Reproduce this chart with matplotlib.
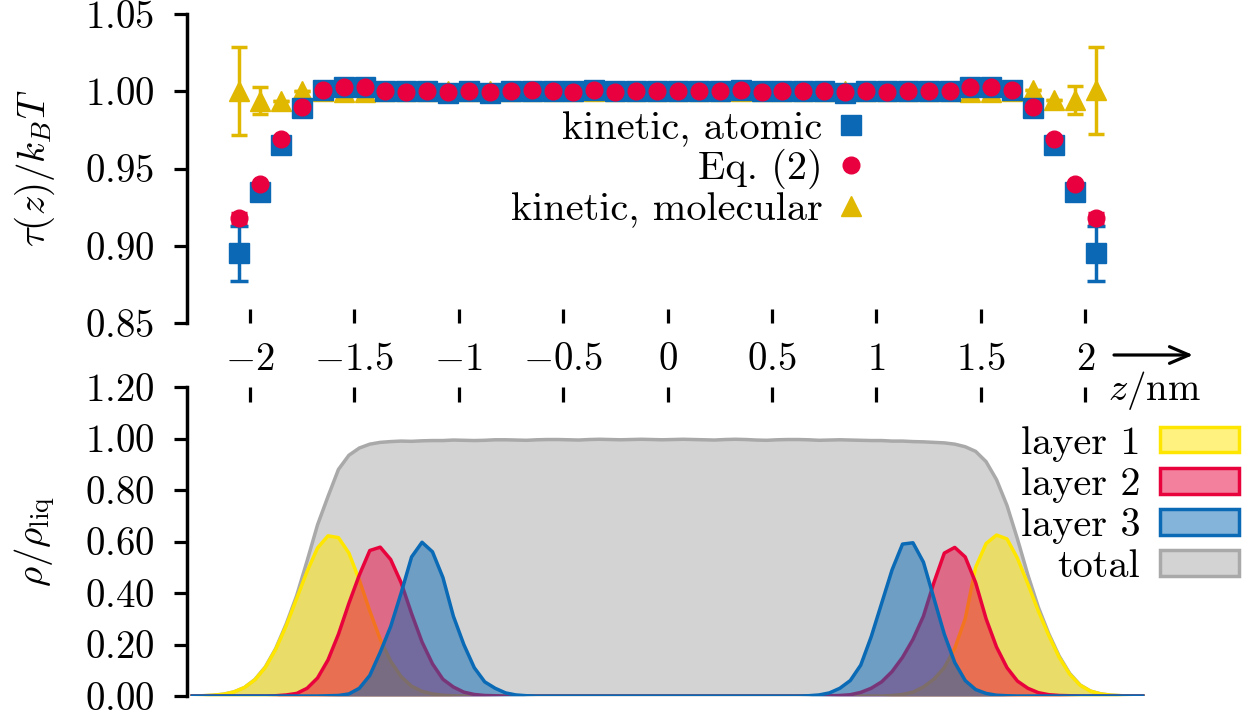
import numpy as np
import matplotlib
matplotlib.use('Agg')
import matplotlib.pyplot as plt
from matplotlib.lines import Line2D
from matplotlib.patches import Patch
from matplotlib.ticker import FixedLocator, FuncFormatter

plt.rcParams['mathtext.fontset'] = 'cm'
plt.rcParams['font.family'] = 'serif'
plt.rcParams['font.serif'] = ['cmr10']
plt.rcParams['axes.unicode_minus'] = False
plt.rcParams['font.size'] = 28

# --- upper panel: tau(z)/kT ---
z_tau = [-2.05, -1.95, -1.85, -1.75, -1.65, -1.55, -1.45, -1.35, -1.25, -1.15, -1.05,
         -0.95, -0.85, -0.75, -0.65, -0.55, -0.45, -0.35, -0.25, -0.15, -0.05,
         0.05, 0.15, 0.25, 0.35, 0.45, 0.55, 0.65, 0.75, 0.85, 0.95,
         1.05, 1.15, 1.25, 1.35, 1.45, 1.55, 1.65, 1.75, 1.85, 1.95, 2.05]
tau_atom = [0.895, 0.935, 0.965, 0.989, 1.001, 1.003, 1.003, 1.000, 1.000, 1.000, 0.999,
            1.000, 0.999, 1.000, 1.000, 1.000, 1.000, 1.001, 1.000, 1.000, 1.000,
            1.000, 1.000, 1.000, 1.001, 1.000, 1.000, 1.000, 1.000, 0.999, 1.000,
            1.000, 1.000, 1.000, 1.000, 1.003, 1.003, 1.001, 0.989, 0.965, 0.935, 0.895]
err_atom = [0.018, 0, 0, 0, 0, 0, 0, 0, 0, 0, 0,
            0, 0, 0, 0, 0, 0, 0, 0, 0, 0,
            0, 0, 0, 0, 0, 0, 0, 0, 0, 0,
            0, 0, 0, 0, 0, 0, 0, 0, 0, 0, 0.018]
tau_eq = [0.918, 0.940, 0.969, 0.990, 1.001, 1.003, 1.0025, 1.0004, 0.9995, 1.0002, 0.9993,
          1.0003, 0.9998, 1.0003, 1.0005, 1.0002, 0.9997, 1.0005, 0.9997, 1.0002, 1.0000,
          1.0002, 1.0000, 1.0000, 1.0005, 0.9997, 1.0002, 1.0000, 1.0000, 0.9997, 1.0002,
          0.9995, 1.0002, 1.0000, 1.0004, 1.0025, 1.003, 1.001, 0.990, 0.969, 0.940, 0.918]
err_eq = [0.0035, 0, 0, 0, 0, 0, 0, 0, 0, 0, 0,
          0, 0, 0, 0, 0, 0, 0, 0, 0, 0,
          0, 0, 0, 0, 0, 0, 0, 0, 0, 0,
          0, 0, 0, 0, 0, 0, 0, 0, 0, 0, 0.0035]
tau_mol = [1.000, 0.994, 0.994, 1.000, 1.000, 0.9995, 0.9995, 1.000, 1.000, 1.000, 1.000,
           1.000, 1.000, 1.000, 1.000, 1.000, 1.000, 1.000, 1.000, 1.000, 1.000,
           1.000, 1.000, 1.000, 1.000, 1.000, 1.000, 1.000, 1.000, 1.000, 1.000,
           1.000, 1.000, 1.000, 1.000, 0.9995, 0.9995, 1.000, 1.001, 0.9945, 0.9944, 1.0005]
err_mol = [0.0285, 0.0085, 0, 0, 0, 0, 0, 0, 0, 0, 0,
           0, 0, 0, 0, 0, 0, 0, 0, 0, 0,
           0, 0, 0, 0, 0, 0, 0, 0, 0, 0,
           0, 0, 0, 0, 0, 0, 0, 0, 0, 0.0089, 0.0284]
tau_labels = ['kinetic, atomic', 'Eq. (2)', 'kinetic, molecular']

# --- lower panel: density profiles (grid -2.275 ... 2.275, step 0.05) ---
z_rho = np.linspace(-2.275, 2.275, 92)
layer1 = [0.000, 0.001, 0.003, 0.007, 0.016, 0.033, 0.063, 0.111, 0.182, 0.273,
          0.379, 0.484, 0.575, 0.622, 0.615, 0.555, 0.450, 0.330, 0.220, 0.135,
          0.075, 0.038, 0.018, 0.008, 0.003, 0.001, 0.000, 0.000, 0.000, 0.000,
          0.000, 0.000, 0.000, 0.000, 0.000, 0.000, 0.000, 0.000, 0.000, 0.000,
          0.000, 0.000, 0.000, 0.000, 0.000, 0.000, 0.000, 0.000, 0.000, 0.000,
          0.000, 0.000, 0.000, 0.000, 0.000, 0.000, 0.000, 0.000, 0.000, 0.000,
          0.000, 0.000, 0.000, 0.000, 0.000, 0.000, 0.000, 0.002, 0.006, 0.015,
          0.035, 0.065, 0.110, 0.185, 0.300, 0.500, 0.592, 0.625, 0.610, 0.535,
          0.435, 0.330, 0.235, 0.150, 0.085, 0.042, 0.019, 0.008, 0.003, 0.001,
          0.000, 0.000]
layer2 = [0.000, 0.000, 0.000, 0.000, 0.000, 0.000, 0.000, 0.000, 0.001, 0.004,
          0.010, 0.030, 0.070, 0.140, 0.240, 0.360, 0.470, 0.565, 0.578, 0.530,
          0.440, 0.320, 0.210, 0.125, 0.065, 0.035, 0.015, 0.006, 0.002, 0.001,
          0.000, 0.000, 0.000, 0.000, 0.000, 0.000, 0.000, 0.000, 0.000, 0.000,
          0.000, 0.000, 0.000, 0.000, 0.000, 0.000, 0.000, 0.000, 0.000, 0.000,
          0.000, 0.000, 0.000, 0.000, 0.000, 0.000, 0.000, 0.000, 0.000, 0.000,
          0.000, 0.001, 0.002, 0.005, 0.014, 0.030, 0.055, 0.095, 0.150, 0.220,
          0.310, 0.440, 0.555, 0.577, 0.540, 0.440, 0.300, 0.190, 0.110, 0.058,
          0.030, 0.013, 0.005, 0.002, 0.001, 0.000, 0.000, 0.000, 0.000, 0.000,
          0.000, 0.000]
layer3 = [0.000, 0.000, 0.000, 0.000, 0.000, 0.000, 0.000, 0.000, 0.000, 0.000,
          0.000, 0.000, 0.000, 0.001, 0.002, 0.008, 0.030, 0.080, 0.170, 0.270,
          0.400, 0.540, 0.597, 0.560, 0.460, 0.310, 0.200, 0.110, 0.055, 0.030,
          0.012, 0.004, 0.001, 0.000, 0.000, 0.000, 0.000, 0.000, 0.000, 0.000,
          0.000, 0.000, 0.000, 0.000, 0.000, 0.000, 0.000, 0.000, 0.000, 0.000,
          0.000, 0.000, 0.000, 0.000, 0.000, 0.000, 0.000, 0.000, 0.000, 0.001,
          0.004, 0.012, 0.030, 0.060, 0.120, 0.230, 0.360, 0.490, 0.590, 0.595,
          0.520, 0.380, 0.240, 0.130, 0.060, 0.025, 0.010, 0.003, 0.001, 0.000,
          0.000, 0.000, 0.000, 0.000, 0.000, 0.000, 0.000, 0.000, 0.000, 0.000,
          0.000, 0.000]
total = [0.000, 0.001, 0.003, 0.007, 0.016, 0.033, 0.064, 0.113, 0.185, 0.280,
         0.390, 0.525, 0.665, 0.775, 0.880, 0.935, 0.963, 0.978, 0.985, 0.988,
         0.990, 0.989, 0.991, 0.992, 0.992, 0.994, 0.993, 0.992, 0.993, 0.995,
         0.995, 0.994, 0.993, 0.995, 0.996, 0.996, 0.995, 0.994, 0.996, 0.997,
         0.996, 0.995, 0.996, 0.997, 0.996, 0.995, 0.996, 0.997, 0.996, 0.995,
         0.994, 0.996, 0.997, 0.996, 0.994, 0.993, 0.995, 0.996, 0.996, 0.995,
         0.993, 0.994, 0.995, 0.994, 0.993, 0.992, 0.992, 0.990, 0.990, 0.988,
         0.987, 0.985, 0.983, 0.978, 0.968, 0.950, 0.910, 0.840, 0.740, 0.610,
         0.470, 0.345, 0.242, 0.155, 0.088, 0.043, 0.019, 0.008, 0.003, 0.001,
         0.000, 0.000]
rho_labels = ['layer 1', 'layer 2', 'layer 3', 'total']

x_ticks = [-2, -1.5, -1, -0.5, 0, 0.5, 1, 1.5, 2]

c_atom = '#0b68b4'
c_eq = '#e8003f'
c_mol = '#e0b800'
c_l1 = '#ffe600'
c_l2 = '#e8033d'
c_l3 = '#0a6ab5'
c_tot_fill = '#d3d3d3'
c_tot_line = '#a9a9a9'

W, H = 1248, 719
fig = plt.figure(figsize=(W / 100, H / 100), dpi=100)
ax1 = fig.add_axes([187 / W, (H - 323) / H, 961 / W, 309 / H])
ax2 = fig.add_axes([187 / W, (H - 696) / H, 961 / W, 309 / H])

# upper panel
ax1.errorbar(z_tau, tau_mol, yerr=err_mol, fmt='^', color=c_mol, ms=15, capsize=5.5,
             elinewidth=2.5, capthick=2.5, zorder=2)
ax1.errorbar(z_tau, tau_atom, yerr=err_atom, fmt='s', color=c_atom, ms=14.5, capsize=6.5,
             elinewidth=2.5, capthick=2.5, zorder=3)
ax1.errorbar(z_tau, tau_eq, yerr=err_eq, fmt='o', color=c_eq, ms=12, capsize=5.5,
             elinewidth=2.5, capthick=2.5, zorder=4)
ax1.set_xlim(-2.3, 2.3)
ax1.set_ylim(0.85, 1.05)
for s in ['top', 'right', 'bottom']:
    ax1.spines[s].set_visible(False)
ax1.spines['left'].set_linewidth(2.5)
ax1.xaxis.set_major_locator(FixedLocator(x_ticks))
ax1.xaxis.set_major_formatter(FuncFormatter(lambda v, p: '$%g$' % v))
ax1.yaxis.set_major_locator(FixedLocator([0.85, 0.90, 0.95, 1.00, 1.05]))
ax1.yaxis.set_major_formatter(FuncFormatter(lambda v, p: '$%.2f$' % v))
ax1.tick_params(axis='x', direction='in', length=10, width=2.3, pad=14)
ax1.tick_params(axis='y', direction='out', length=9.5, width=2.3, pad=14)
ax1.set_ylabel(r'$\tau(z)/k_BT$')
ax1.yaxis.set_label_coords(-0.135, 0.5)

h_tau = [Line2D([], [], ls='none', marker='s', ms=15, color=c_atom),
         Line2D([], [], ls='none', marker='o', ms=12, color=c_eq),
         Line2D([], [], ls='none', marker='^', ms=15, color=c_mol)]
fig.legend(h_tau, tau_labels, loc='upper right', bbox_to_anchor=(867 / W, (H - 111) / H),
           frameon=False, markerfirst=False, handlelength=0.8, handletextpad=0.3,
           borderpad=0, borderaxespad=0, labelspacing=0.05, fontsize=29)

# lower panel
ax2.fill_between(z_rho, total, color=c_tot_fill, lw=0, zorder=1)
ax2.plot(z_rho, total, color=c_tot_line, lw=2.5, zorder=1)
for y, c in zip([layer1, layer2, layer3], [c_l1, c_l2, c_l3]):
    ax2.fill_between(z_rho, y, color=c, alpha=0.5, lw=0, zorder=2)
    ax2.plot(z_rho, y, color=c, lw=2.5, zorder=2)
ax2.set_xlim(-2.3, 2.3)
ax2.set_ylim(0, 1.2)
for s in ['top', 'right', 'bottom']:
    ax2.spines[s].set_visible(False)
ax2.spines['left'].set_linewidth(2.5)
ax2.xaxis.set_ticks_position('top')
ax2.xaxis.set_major_locator(FixedLocator(x_ticks))
ax2.tick_params(axis='x', direction='in', length=10.5, width=2.3,
                labeltop=False, labelbottom=False)
ax2.yaxis.set_major_locator(FixedLocator([0, 0.2, 0.4, 0.6, 0.8, 1.0, 1.2]))
ax2.yaxis.set_major_formatter(FuncFormatter(lambda v, p: '$%.2f$' % v))
ax2.tick_params(axis='y', direction='out', length=9.5, width=2.3, pad=14)
ax2.set_ylabel(r'$\rho/\rho_\mathrm{liq}$')
ax2.yaxis.set_label_coords(-0.135, 0.5)

h_rho = [Patch(facecolor=c_l1 + '80', edgecolor=c_l1, lw=2.5),
         Patch(facecolor=c_l2 + '80', edgecolor=c_l2, lw=2.5),
         Patch(facecolor=c_l3 + '80', edgecolor=c_l3, lw=2.5),
         Patch(facecolor=c_tot_fill, edgecolor=c_tot_line, lw=2.5)]
fig.legend(h_rho, rho_labels, loc='upper right', bbox_to_anchor=(1239 / W, (H - 426) / H),
           frameon=False, markerfirst=False, handlelength=1.95, handleheight=0.6,
           handletextpad=0.5, borderpad=0, borderaxespad=0, labelspacing=0.13, fontsize=29)

# axis arrow and label between panels
ax1.annotate('', xy=(1193 / W, (H - 355) / H), xytext=(1114 / W, (H - 355) / H),
             xycoords='figure fraction', textcoords='figure fraction',
             arrowprops=dict(arrowstyle='->,head_length=0.7,head_width=0.3', lw=2.3,
                             color='black', mutation_scale=20, shrinkA=0, shrinkB=0))
fig.text(1154 / W, (H - 390) / H, r'$z/\mathrm{nm}$', ha='center', va='center')

fig.savefig('out.png', dpi=100)
